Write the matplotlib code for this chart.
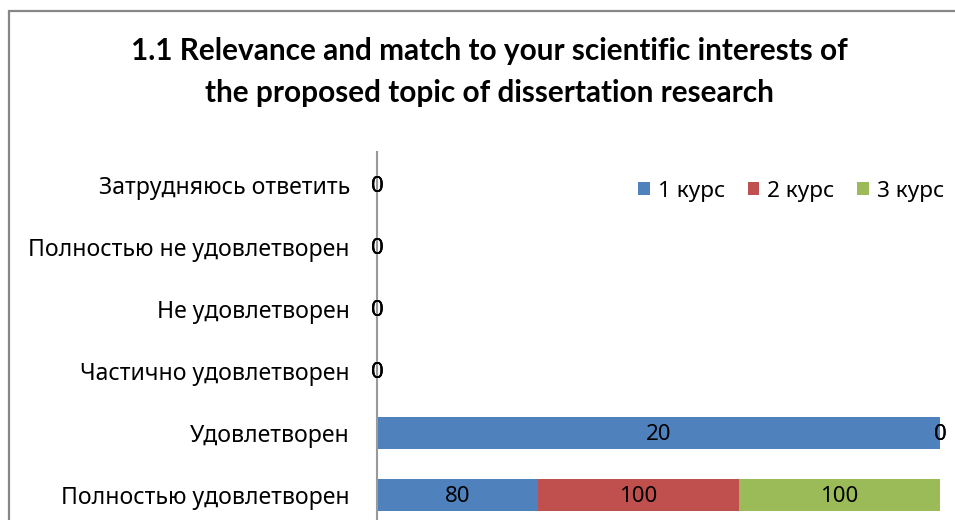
import matplotlib
matplotlib.use("Agg")
import matplotlib.pyplot as plt
from matplotlib.patches import Rectangle, Patch
import numpy as np

plt.rcParams['font.family'] = ['Noto Sans', 'DejaVu Sans']

title = "1.1 Relevance and match to your scientific interests of\nthe proposed topic of dissertation research"
categories = ["Полностью удовлетворен", "Удовлетворен", "Частично удовлетворен",
              "Не удовлетворен", "Полностью не удовлетворен", "Затрудняюсь ответить"]
series_names = ["1 курс", "2 курс", "3 курс"]
kurs1 = [80, 20, 0, 0, 0, 0]
kurs2 = [100, 0, 0, 0, 0, 0]
kurs3 = [100, 0, 0, 0, 0, 0]
colors = ["#4F81BD", "#C0504D", "#9BBB59"]

W, H = 955, 520
fig = plt.figure(figsize=(W / 100, H / 100), dpi=100)

# chart frame (cut off on right and bottom)
fig.patches.append(Rectangle((9 / W, -0.1), 1.2, 1 - 11 / H + 0.1, transform=fig.transFigure,
                             fill=False, edgecolor="#878787", linewidth=1.6))

ax_left, ax_right = 377 / W, 940 / W
ax_top, ax_bottom = 1 - 152 / H, 1 - 526 / H
ax = fig.add_axes([ax_left, ax_bottom, ax_right - ax_left, ax_top - ax_bottom])

data = np.array([kurs1, kurs2, kurs3], dtype=float)
totals = data.sum(axis=0)
pct = np.divide(data * 100, totals, out=np.zeros_like(data), where=totals > 0)

y = np.arange(len(categories))
left = np.zeros(len(categories))
for i, name in enumerate(series_names):
    ax.barh(y, pct[i], left=left, height=0.53, color=colors[i], label=name)
    for j in range(len(categories)):
        cx = left[j] + pct[i][j] / 2
        ax.text(cx, y[j] - 0.03, f"{int(data[i][j])}", ha="center", va="center",
                fontsize=16, color="black")
    left += pct[i]

ax.set_xlim(0, 100)
ax.set_ylim(-0.5, len(categories) - 0.47)
ax.set_yticks(y)
ax.set_yticklabels(categories, fontsize=16.6)
ax.tick_params(axis="y", length=0, pad=19.5)
ax.set_xticks([])
for s in ["top", "right", "bottom"]:
    ax.spines[s].set_visible(False)
ax.spines["left"].set_color("#999999")
ax.spines["left"].set_linewidth(1.5)

fig.text(489 / W, 1 - 72 / H, title, ha="center", va="center", fontsize=21.4,
         fontweight="bold", linespacing=1.6, family=["Lato", "DejaVu Sans"])

handles = [Patch(facecolor=c, edgecolor="none") for c in colors]
fig.legend(handles, series_names, loc="center left", bbox_to_anchor=(638 / W, 1 - 191 / H),
           ncol=3, frameon=False, fontsize=16.3, handlelength=0.52, handleheight=0.52,
           handletextpad=0.35, columnspacing=1.0, borderpad=0, borderaxespad=0)

fig.savefig("out.png", dpi=100)
